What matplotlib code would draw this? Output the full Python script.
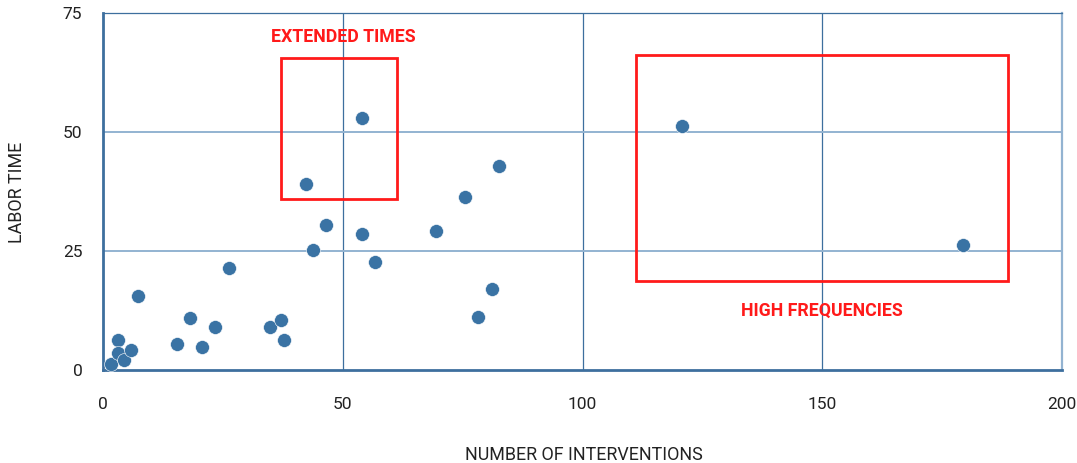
import matplotlib
matplotlib.use("Agg")
import matplotlib.pyplot as plt
from matplotlib.patches import Rectangle

plt.rcParams['font.family'] = ['Roboto', 'DejaVu Sans']

# Number of interventions vs. labor time
interventions = [1.7, 3.1, 3.1, 4.4, 5.9, 7.3, 15.5, 18.2, 20.7, 23.4, 26.3,
                 34.9, 37.0, 37.8, 42.4, 43.7, 46.5, 53.9, 53.9, 56.6,
                 69.4, 75.4, 78.2, 81.1, 82.5, 120.8, 179.4]
labor_time = [1.3, 6.3, 3.6, 2.1, 4.2, 15.5, 5.4, 10.9, 4.8, 9.0, 21.3,
              9.0, 10.5, 6.3, 39.0, 25.1, 30.5, 52.9, 28.6, 22.6,
              29.1, 36.2, 11.0, 17.0, 42.7, 51.2, 26.3]

x_ticks = [0, 50, 100, 150, 200]
y_ticks = [0, 25, 50, 75]

# Highlighted regions: (x0, x1, y0, y1, label, label_x, label_y)
regions = [
    (37.0, 61.3, 35.9, 65.5, "EXTENDED TIMES", 50.1, 69.9),
    (111.1, 188.8, 18.7, 66.1, "HIGH FREQUENCIES", 150.0, 12.3),
]

point_color = "#3a73a4"
dark_line = "#3d6f9e"
light_line = "#93b3d1"
red = "#ff1a1a"
text_color = "#222222"

fig = plt.figure(figsize=(10.77, 4.63), dpi=100)
ax = fig.add_axes([0.0958, 0.2015, 0.8903, 0.771])

ax.set_xlim(0, 200)
ax.set_ylim(0, 75)
ax.set_xticks(x_ticks)
ax.set_yticks(y_ticks)

# grid: vertical lines dark and thin, horizontal lines lighter
for xv in x_ticks[1:-1]:
    ax.axvline(xv, color=dark_line, lw=0.9, zorder=1)
for yv in y_ticks[1:-1]:
    ax.axhline(yv, color=light_line, lw=1.4, zorder=1)

for side in ax.spines:
    ax.spines[side].set_zorder(2)
ax.spines['left'].set_color(dark_line)
ax.spines['left'].set_linewidth(2.0)
ax.spines['bottom'].set_color(dark_line)
ax.spines['bottom'].set_linewidth(2.0)
ax.spines['top'].set_color(dark_line)
ax.spines['top'].set_linewidth(0.9)
ax.spines['right'].set_color(light_line)
ax.spines['right'].set_linewidth(1.6)

ax.tick_params(length=0, labelsize=12.5, labelcolor=text_color)
ax.tick_params(axis='y', pad=15)
ax.tick_params(axis='x', pad=20)

ax.scatter(interventions, labor_time, s=100, color=point_color,
           edgecolors='white', linewidths=0.4, zorder=4, clip_on=False)

for x0, x1, y0, y1, label, lx, ly in regions:
    ax.add_patch(Rectangle((x0, y0), x1 - x0, y1 - y0, fill=False,
                           edgecolor=red, lw=2.0, zorder=3))
    ax.text(lx, ly, label, color=red, fontsize=12.8, fontweight='bold',
            ha='center', va='center', zorder=5)

# axis titles placed in figure coordinates
fig.text(584 / 1077, 1 - 455 / 463, "NUMBER OF INTERVENTIONS", fontsize=12.9,
         color=text_color, ha='center', va='center')
fig.text(17 / 1077, 1 - 192 / 463, "LABOR TIME", fontsize=12.9,
         color=text_color, ha='center', va='center', rotation=90)

fig.savefig("out.png", dpi=100)
